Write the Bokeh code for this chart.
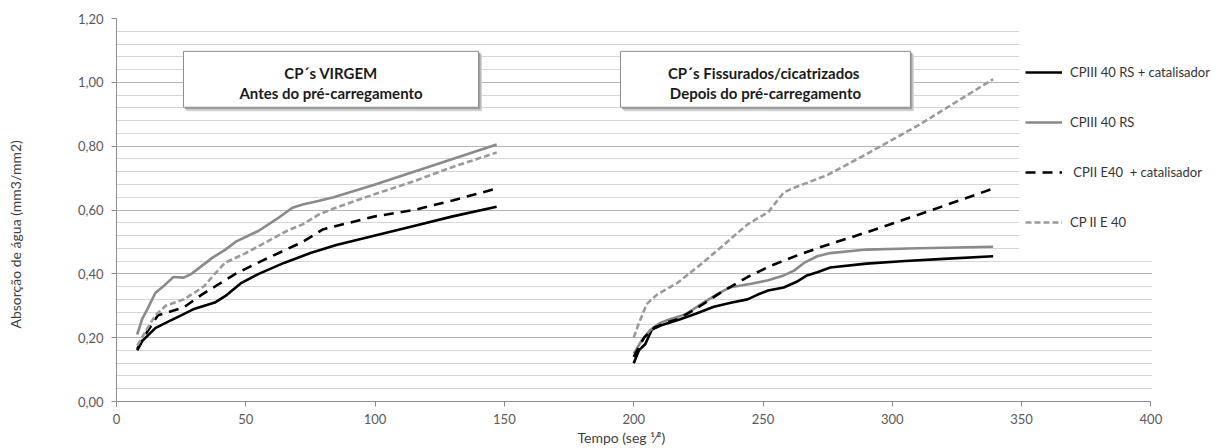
from bokeh.plotting import figure
from bokeh.models import (Range1d, Legend, LegendItem, Label, BoxAnnotation, Title,
                          CustomJSTickFormatter, FixedTicker)
from bokeh.embed import file_html
from bokeh.resources import INLINE

FONT = "Lato"

# ---- data (x = tempo seg^1/2, y = absorção mm3/mm2) ----
# Left group: CP's virgem (antes do pré-carregamento)
l_cat_x = [8, 10, 15, 20, 25, 30, 38, 42, 48, 55, 65, 75, 85, 100, 115, 130, 147]
l_cat_y = [0.16, 0.19, 0.23, 0.25, 0.27, 0.29, 0.31, 0.33, 0.37, 0.40, 0.435, 0.465, 0.49, 0.52, 0.55, 0.58, 0.61]

l_rs_x = [8, 10, 12, 15, 18, 22, 26, 29, 33, 37, 42, 46, 55, 62, 68, 72, 78, 84, 100, 115, 130, 147]
l_rs_y = [0.21, 0.26, 0.29, 0.34, 0.36, 0.39, 0.388, 0.40, 0.425, 0.45, 0.475, 0.50, 0.535, 0.572, 0.607, 0.617, 0.628, 0.64, 0.68, 0.72, 0.76, 0.805]

l_e40cat_x = [8, 12, 16, 20, 26, 33, 39, 46, 56, 64, 72, 80, 90, 100, 115, 130, 146]
l_e40cat_y = [0.165, 0.22, 0.27, 0.28, 0.295, 0.335, 0.365, 0.40, 0.44, 0.47, 0.50, 0.54, 0.56, 0.58, 0.60, 0.63, 0.665]

l_e40_x = [8, 12, 15, 19, 26, 30, 34, 38, 42, 50, 58, 66, 72, 78, 84, 100, 115, 130, 147]
l_e40_y = [0.175, 0.23, 0.27, 0.30, 0.32, 0.34, 0.362, 0.40, 0.435, 0.465, 0.50, 0.535, 0.555, 0.585, 0.605, 0.65, 0.69, 0.735, 0.78]

# Right group: CP's fissurados/cicatrizados (depois do pré-carregamento)
r_cat_x = [200, 202, 204.5, 207, 211, 218, 224, 231, 238, 244, 248, 252, 258, 263, 267, 271, 276, 290, 305, 320, 339]
r_cat_y = [0.12, 0.16, 0.18, 0.225, 0.24, 0.258, 0.275, 0.297, 0.31, 0.32, 0.335, 0.348, 0.357, 0.375, 0.395, 0.405, 0.42, 0.432, 0.44, 0.447, 0.455]

r_rs_x = [200, 203, 206.5, 210, 214, 220, 227, 232, 237, 246, 252, 258, 262, 266, 271, 276, 290, 310, 339]
r_rs_y = [0.15, 0.19, 0.225, 0.245, 0.258, 0.273, 0.31, 0.335, 0.357, 0.37, 0.38, 0.395, 0.41, 0.435, 0.455, 0.465, 0.476, 0.48, 0.485]

r_e40cat_x = [200, 204, 208, 213, 217, 224, 234, 244, 253, 263, 272, 290, 310, 339]
r_e40cat_y = [0.14, 0.20, 0.232, 0.248, 0.258, 0.29, 0.343, 0.39, 0.425, 0.457, 0.483, 0.53, 0.585, 0.667]

r_e40_x = [200, 202, 205, 209, 217, 226, 234, 244, 252, 258, 262, 267, 275, 290, 310, 339]
r_e40_y = [0.20, 0.245, 0.305, 0.335, 0.372, 0.43, 0.485, 0.555, 0.593, 0.655, 0.67, 0.685, 0.71, 0.775, 0.865, 1.01]

series_names = ["CPIII 40 RS + catalisador", "CPIII 40 RS", " CPII E40  + catalisador", "CP II E 40"]
box_texts = [["CP´s VIRGEM", "Antes do pré-carregamento"],
             ["CP´s  Fissurados/cicatrizados", "Depois do pré-carregamento"]]
y_label = "Absorção de água (mm3/mm2)"
x_label = "Tempo (seg ¹⁄²)"
y_ticks = [0.0, 0.2, 0.4, 0.6, 0.8, 1.0, 1.2]
x_ticks = [0, 50, 100, 150, 200, 250, 300, 350, 400]

# ---- figure ----
W, H = 1219, 448
X_END = (W - 116) / 129.3 * 50  # frame extends under the legend area
p = figure(width=W, height=H, output_backend="svg", toolbar_location=None,
           x_range=Range1d(0, X_END), y_range=Range1d(0, 1.2),
           min_border_left=116, min_border_right=0, min_border_top=18, min_border_bottom=H - 401)
p.outline_line_color = None
p.background_fill_color = "white"

# axes
p.xaxis.ticker = FixedTicker(ticks=x_ticks)
p.xaxis.bounds = (0, 400)
p.yaxis.ticker = FixedTicker(ticks=y_ticks, minor_ticks=[i * 0.04 for i in range(31)])
p.yaxis.formatter = CustomJSTickFormatter(code="return tick.toFixed(2).replace('.', ',');")
for ax in (p.xaxis, p.yaxis):
    ax.axis_line_color = "#8c8c8c"
    ax.major_tick_line_color = "#8c8c8c"
    ax.minor_tick_line_color = None
    ax.major_tick_in = 0
    ax.major_tick_out = 5
    ax.major_label_text_font = FONT
    ax.major_label_text_font_size = "13px"
    ax.major_label_text_color = "#595959"
p.xaxis.major_label_standoff = 7
p.yaxis.major_label_standoff = 8

p.xgrid.grid_line_color = None
p.ygrid.grid_line_color = "#b4b4b4"
p.ygrid.minor_grid_line_color = "#d6d6d6"

# white areas: behind legend and right of x = 400
p.add_layout(BoxAnnotation(left=349, right=X_END, bottom=0.463, top=1.2,
                           fill_color="white", fill_alpha=1, line_color=None, level="underlay"))
p.add_layout(BoxAnnotation(left=400.4, right=X_END, bottom=0, top=1.2,
                           fill_color="white", fill_alpha=1, line_color=None, level="underlay"))

# axis titles (as Titles, so that they can be offset along the axis)
p.add_layout(Title(text=x_label, align="left", offset=461, standoff=0, vertical_align="bottom",
                   text_font=FONT, text_font_size="14px", text_font_style="normal",
                   text_color="#404040"), "below")
p.add_layout(Title(text=" ", standoff=46, text_font_size="1px"), "left")  # spacer
p.add_layout(Title(text=y_label, align="left", offset=73, standoff=0, vertical_align="top",
                   text_font=FONT, text_font_size="14px", text_font_style="normal",
                   text_color="#404040"), "left")

# lines
r1 = p.line(l_cat_x, l_cat_y, line_color="black", line_width=2.6)
p.line(r_cat_x, r_cat_y, line_color="black", line_width=2.6)
r2 = p.line(l_rs_x, l_rs_y, line_color="#8a8a8a", line_width=2.6)
p.line(r_rs_x, r_rs_y, line_color="#8a8a8a", line_width=2.6)
r3 = p.line(l_e40cat_x, l_e40cat_y, line_color="black", line_width=2.6, line_dash="10 7")
p.line(r_e40cat_x, r_e40cat_y, line_color="black", line_width=2.6, line_dash="10 7")
r4 = p.line(l_e40_x, l_e40_y, line_color="#9a9a9a", line_width=2.6, line_dash="6 3")
p.line(r_e40_x, r_e40_y, line_color="#9a9a9a", line_width=2.6, line_dash="6 3")

legend = Legend(items=[LegendItem(label=n, renderers=[r]) for n, r in zip(series_names, [r1, r2, r3, r4])],
                location=(909, 169), padding=0, margin=0, spacing=30,
                glyph_width=37, glyph_height=20, label_height=20, label_standoff=8,
                label_text_font=FONT, label_text_font_size="13px", label_text_color="#333333",
                background_fill_alpha=0, border_line_color=None)
p.add_layout(legend)

# annotation boxes (with shadow)
boxes = [(25.9, 140.0), (194.9, 307.0)]
b_top, b_bot = 1.097, 0.922
dx = 50 / 129.3  # data units per pixel in x
dy = 1 / 319.0   # data units per pixel in y
for (bl, br), texts in zip(boxes, box_texts):
    p.quad(left=bl + 3 * dx, right=br + 3.5 * dx, top=b_top - 3 * dy, bottom=b_bot - 4 * dy,
           fill_color="#d4d4d4", line_color=None)
    p.quad(left=bl + 1.5 * dx, right=br + 2 * dx, top=b_top - 1.5 * dy, bottom=b_bot - 2 * dy,
           fill_color="#a0a0a0", line_color=None)
    p.quad(left=bl, right=br, top=b_top, bottom=b_bot, fill_color="white",
           line_color="#8c8c8c", line_width=1)
    cx = (bl + br) / 2
    p.add_layout(Label(x=cx, y=(401 - 73) / 319.0, text=texts[0], text_align="center",
                       text_baseline="alphabetic", text_font=FONT, text_font_style="bold",
                       text_font_size="15px", text_color="#1a1a1a"))
    p.add_layout(Label(x=cx, y=(401 - 93) / 319.0, text=texts[1], text_align="center",
                       text_baseline="alphabetic", text_font=FONT, text_font_style="bold",
                       text_font_size="15px", text_color="#1a1a1a"))

open("out.html", "w").write(file_html(p, INLINE))
